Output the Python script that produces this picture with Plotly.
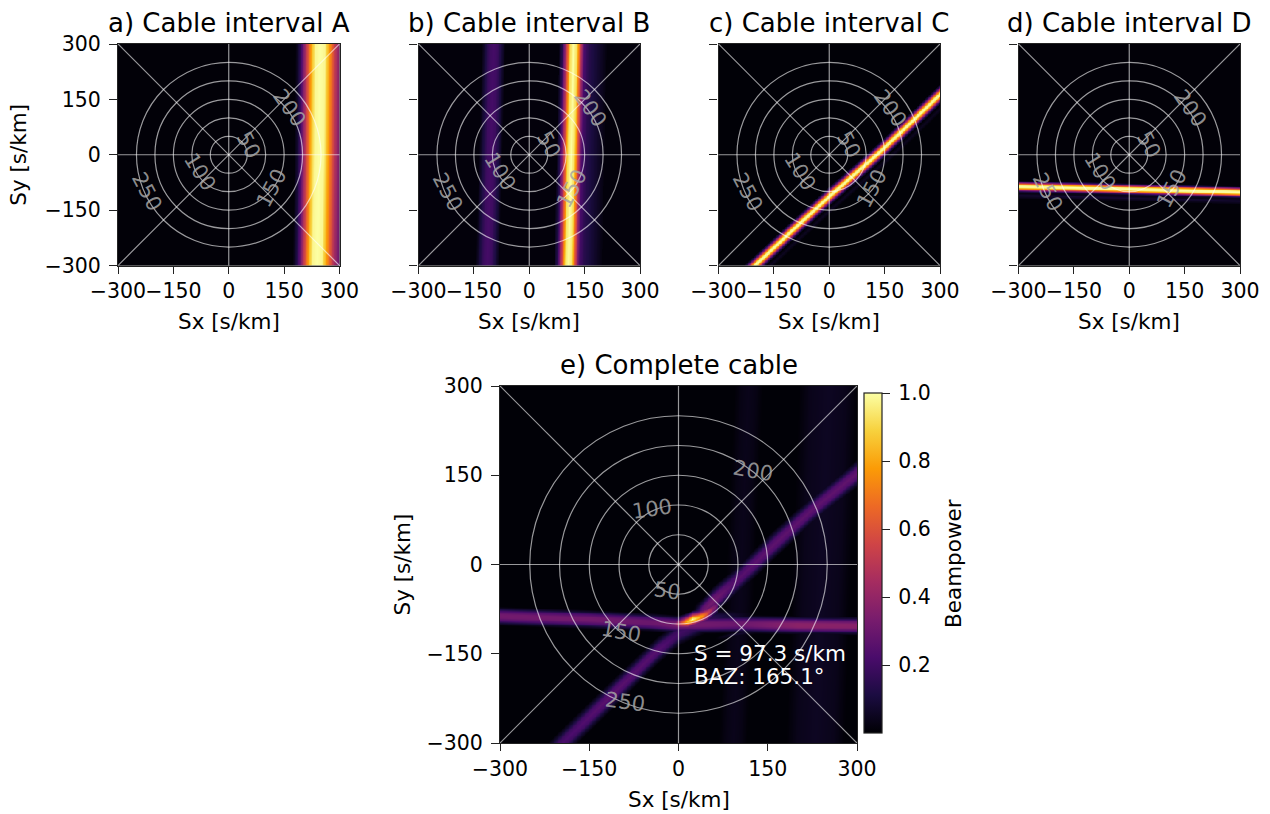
import numpy as np
import plotly.graph_objects as go

# ---------- values ----------
tick_vals = [-300, -150, 0, 150, 300]
titles = ["a) Cable interval A", "b) Cable interval B", "c) Cable interval C",
          "d) Cable interval D", "e) Complete cable"]
ring_radii = [50, 100, 150, 200, 250]
ring_labels = ["50", "100", "150", "200", "250"]
spoke_angles = [0, 45, 90, 135]
cbar_ticks = [0.2, 0.4, 0.6, 0.8, 1.0]

# label positions (Sx, Sy) and rotation for the small panels and the big one
small_lab_x = [53, -78, 117, 164, -221]
small_lab_y = [26, -46, -91, 126, -100]
small_lab_rot = [62, 58, -62, 55, 62]
big_lab_x = [-19, -44, -96, 126, -90]
big_lab_y = [-44, 93, -114, 157, -231]
big_lab_rot = [8, -8, 10, 10, 8]

# panel a
a_ridge_sy = [-300, 0, 300]
a_ridge_sx = [240, 245, 248]
a_off = [-66, -57, -48, -39, -30, -21, -12, 0, 13, 24, 33, 42, 54, 70]
a_val = [.01, .1, .25, .45, .65, .85, .98, 1, .98, .8, .65, .5, .35, .2]
# panel b
b_ridge_sy = [-300, 0, 300]
b_ridge_sx = [107, 114, 121]
b_off = [-39, -30, -21, -14, -9, 0, 9, 15, 23, 29, 42, 70, 90]
b_val = [.03, .15, .45, .7, .92, 1, .92, .7, .4, .22, .14, .07, .02]
b2_ridge_sx = [-113, -104, -96]
b2_off = [-32, -22, -10, 0, 10, 22, 32]
b2_val = [.01, .1, .19, .21, .19, .1, .01]
# panel c
c_ridge_sx = [-240, -200, -100, 0, 65, 130, 215, 300, 330]
c_ridge_sy = [-337, -300, -206, -114, -57, 0, 80, 162, 190]
c_off = [-20, -16, -12, -7, -3, 0, 3, 7, 12, 16, 20]
c_val = [.02, .12, .35, .7, .95, 1, .95, .7, .35, .12, .02]
c2_off = [-36, -29, -22]
c2_val = [.01, .05, .01]
# panel d
d_ridge_sx = [-300, -150, 0, 150, 300]
d_ridge_sy = [-87, -90, -94, -98, -102]
d_off = [-32, -24, -19, -16, -13, -10, -7, -3, 0, 3, 7, 10, 13, 16]
d_val = [.02, .08, .03, .04, .15, .4, .7, .97, 1, .97, .7, .4, .15, .02]
# panel e
e_h_sx = [-300, -150, -50, 0, 100, 200, 300]
e_h_sy = [-87, -92, -97, -101, -100, -102, -103]
e_h_amp = [.32, .32, .3, .33, .3, .38, .37]
e_h_off = [-16, -12, -8, -3, 0, 3, 8, 12, 16]
e_h_val = [.01, .25, .7, .98, 1, .98, .7, .25, .01]
e_up_sx = [24, 40, 58, 91, 126, 160, 220, 300, 330]
e_up_sy = [-90, -80, -62, -33, 0, 33, 88, 153, 180]
e_up_amp = [0, .3, .32, .25, .26, .27, .27, .28, .28]
e_lo_sx = [-240, -195, -121, -36, 2, 57, 120]
e_lo_sy = [-345, -300, -228, -145, -115, -93, -88]
e_lo_amp = [.22, .22, .26, .25, .2, .16, .03]
e_d_off = [-18, -12, -6, 0, 6, 12, 18]
e_d_val = [.01, .35, .85, 1, .85, .35, .01]
e_arc_sx = [-8, 5, 15, 24, 32, 40, 48, 56, 66]
e_arc_sy = [-101, -98.5, -96, -92, -90, -87, -83, -76, -68]
e_arc_amp = [.33, .6, .85, 1.0, .88, .78, .6, .42, .28]
e_arc_off = [-14, -10, -6, -3, 0, 3, 6, 10, 14]
e_arc_val = [.02, .25, .55, .85, 1, .85, .55, .25, .02]
e_rip1_sx = [62, 90, 130, 160]
e_rip1_sy = [-48, -18, 18, 48]
e_rip1_amp = [0, .09, .09, 0]
e_rip2_sx = [60, 90, 130, 170]
e_rip2_sy = [-125, -118, -112, -112]
e_rip2_amp = [0, .08, .07, 0]
e_rip_off = [-5, 0, 5]
e_rip_val = [0, 1, 0]
e_band_sy = [-300, 300]
e_band1_sx = [92, 118]
e_band2_sx = [230, 252]
e_band1_off = [-26, -12, 0, 12, 26]
e_band1_val = [0, .03, .04, .03, 0]
e_band2_off = [-52, -30, 0, 30, 52]
e_band2_val = [0, .04, .055, .04, 0]

# ---------- image building ----------
def grid(n):
    s = np.linspace(-300, 300, n)
    return s, *np.meshgrid(s, s)

def vertical(X, Y, sy, sx, off, val):
    return np.interp(X - np.interp(Y, sy, sx), off, val, left=0, right=0)

def along(X, Y, sx, sy, amp, off, val):
    slope = np.interp(X, sx, np.gradient(np.array(sy, float), np.array(sx, float)))
    d = (Y - np.interp(X, sx, sy)) * np.cos(np.arctan(slope))
    a = np.interp(X, sx, amp, left=0, right=0)
    return a * np.interp(d, off, val, left=0, right=0)

s1, X, Y = grid(301)
z_a = np.maximum(vertical(X, Y, a_ridge_sy, a_ridge_sx, a_off, a_val), 0.008)
z_b = np.maximum.reduce([vertical(X, Y, b_ridge_sy, b_ridge_sx, b_off, b_val),
                         vertical(X, Y, b_ridge_sy, b2_ridge_sx, b2_off, b2_val),
                         np.full_like(X, 0.012)])
one_c = [1] * len(c_ridge_sx)
one_d = [1] * len(d_ridge_sx)
z_c = np.maximum.reduce([along(X, Y, c_ridge_sx, c_ridge_sy, one_c, c_off, c_val),
                         along(X, Y, c_ridge_sx, c_ridge_sy, one_c, c2_off, c2_val),
                         np.full_like(X, 0.006)])
z_d = np.maximum(along(X, Y, d_ridge_sx, d_ridge_sy, one_d, d_off, d_val), 0.008)

s2, X2, Y2 = grid(451)
z_e = np.maximum.reduce([
    along(X2, Y2, e_h_sx, e_h_sy, e_h_amp, e_h_off, e_h_val),
    along(X2, Y2, e_up_sx, e_up_sy, e_up_amp, e_d_off, e_d_val),
    along(X2, Y2, e_lo_sx, e_lo_sy, e_lo_amp, e_d_off, e_d_val),
    along(X2, Y2, e_arc_sx, e_arc_sy, e_arc_amp, e_arc_off, e_arc_val),
    along(X2, Y2, e_rip1_sx, e_rip1_sy, e_rip1_amp, e_rip_off, e_rip_val),
    along(X2, Y2, e_rip2_sx, e_rip2_sy, e_rip2_amp, e_rip_off, e_rip_val),
    vertical(X2, Y2, e_band_sy, e_band1_sx, e_band1_off, e_band1_val),
    vertical(X2, Y2, e_band_sy, e_band2_sx, e_band2_off, e_band2_val),
    np.full_like(X2, 0.006),
])

# ---------- layout ----------
W, H = 1270, 814
FONT = "DejaVu Sans"
TICK, LABEL, TITLE = 20.5, 21.5, 26
boxes = [(118, 339.5, 44, 265.5), (418.5, 640, 44, 265.5), (718.5, 940, 44, 265.5),
         (1018.5, 1240, 44, 265.5), (500, 857, 386, 743)]
images = [(s1, z_a), (s1, z_b), (s1, z_c), (s1, z_d), (s2, z_e)]

fig = go.Figure()
shapes, notes = [], []
RING = "rgba(255,255,255,0.6)"

def px_note(text, x, y, size, angle=0, xanchor="center", yanchor="middle"):
    notes.append(dict(text=text, x=x / W, y=1 - y / H, xref="paper", yref="paper",
                      textangle=angle, showarrow=False, xanchor=xanchor, yanchor=yanchor,
                      font=dict(family=FONT, size=size, color="black")))

for i, ((l, r, t, b), (s, z)) in enumerate(zip(boxes, images)):
    n = i + 1
    sfx = "" if n == 1 else str(n)
    trace = dict(x=s, y=s, z=z, colorscale="Inferno", zmin=0, zmax=1,
                 xaxis="x" + sfx, yaxis="y" + sfx, showscale=(n == 5), hoverinfo="skip")
    if n == 5:
        trace["colorbar"] = dict(
            x=864 / W, xanchor="left", xpad=0, y=1 - 393 / H, yanchor="top", ypad=0,
            lenmode="pixels", len=340, thicknessmode="pixels", thickness=18,
            outlinecolor="#222", outlinewidth=1.2, tickmode="array", tickvals=cbar_ticks,
            ticktext=[f"\u2009{v:.1f}" for v in cbar_ticks], ticks="outside", ticklen=8,
            tickwidth=1.2, tickcolor="#222", tickfont=dict(family=FONT, size=TICK, color="black"))
    fig.add_trace(go.Heatmap(**trace))

    show_y = n in (1, 5)
    common = dict(range=[-300, 300], tickmode="array", tickvals=tick_vals, ticks="outside",
                  tickwidth=1.2, tickcolor="#222", tickangle=0, showgrid=False,
                  zeroline=False, showline=True, linecolor="#222", linewidth=1.2, mirror=True,
                  automargin=False, tickfont=dict(family=FONT, size=TICK, color="black"))
    fig.update_layout({
        "xaxis" + sfx: dict(common, domain=[l / W, r / W], anchor="y" + sfx, ticklen=7),
        "yaxis" + sfx: dict(common, domain=[1 - b / H, 1 - t / H], anchor="x" + sfx, ticklen=8,
                            ticklabelstandoff=4, showticklabels=show_y),
    })

    xr, yr = "x" + sfx, "y" + sfx
    for rad in ring_radii:
        shapes.append(dict(type="circle", xref=xr, yref=yr, x0=-rad, x1=rad, y0=-rad, y1=rad,
                           line=dict(color=RING, width=1.2), layer="above"))
    for ang in spoke_angles:
        dx, dy = 430 * np.cos(np.radians(ang)), 430 * np.sin(np.radians(ang))
        shapes.append(dict(type="line", xref=xr, yref=yr, x0=-dx, x1=dx, y0=-dy, y1=dy,
                           line=dict(color=RING, width=1.2), layer="above"))

    lx, ly, lr = (big_lab_x, big_lab_y, big_lab_rot) if n == 5 else (small_lab_x, small_lab_y, small_lab_rot)
    for txt, px, py, rot in zip(ring_labels, lx, ly, lr):
        notes.append(dict(text=txt, x=px, y=py, xref=xr, yref=yr, textangle=rot, showarrow=False,
                          xanchor="center", yanchor="middle",
                          font=dict(family=FONT, size=21, color="rgba(165,165,165,0.85)")))
    px_note(titles[i], (l + r) / 2, t - 21, TITLE)
    px_note("Sx [s/km]", (l + r) / 2, b + 56, LABEL)
    if show_y:
        px_note("Sy [s/km]", 19 if n == 1 else 402, (t + b) / 2, LABEL, angle=-90)

for txt, sy in (("S = 97.3 s/km", -150), ("BAZ: 165.1°", -189)):
    notes.append(dict(text=txt, x=22.5, y=sy, xref="x5", yref="y5", showarrow=False,
                      xanchor="left", yanchor="middle",
                      font=dict(family=FONT, size=21.5, color="white")))
px_note("Beampower", 953, 563, LABEL, angle=-90)

fig.update_layout(width=W, height=H, margin=dict(l=0, r=0, t=0, b=0), paper_bgcolor="white",
                  plot_bgcolor="black", shapes=shapes, annotations=notes, showlegend=False)
fig.write_html("out.html", config={"displayModeBar": False},
               post_script="document.body.style.margin='0';")
